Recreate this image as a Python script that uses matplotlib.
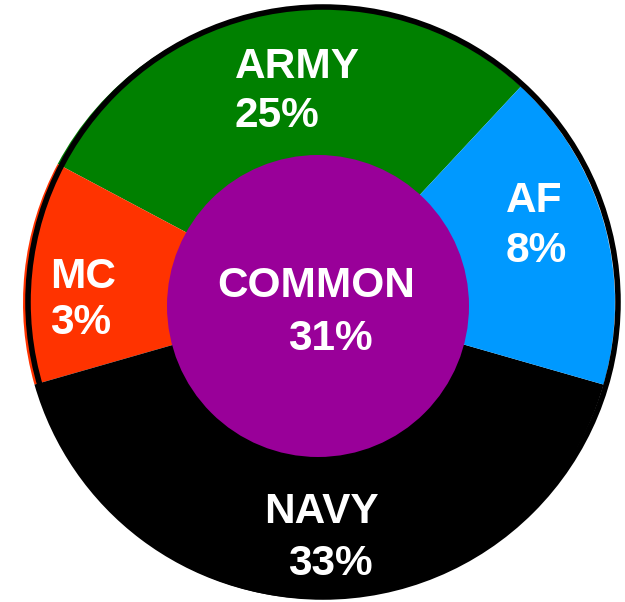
import matplotlib
matplotlib.use("Agg")
import matplotlib.pyplot as plt
from matplotlib.patches import Circle

# ---- data ----
categories = ["ARMY", "MC", "NAVY", "AF"]
percents = [25, 3, 33, 8]
wedge_degrees = [105, 44, 148, 63]          # angular size of each ring wedge as drawn
colors = ["#008000", "#FF3300", "#000000", "#0099FF"]
center_label = "COMMON"
center_percent = 31
center_color = "#990099"

W, H = 625, 602
fig = plt.figure(figsize=(W / 100, H / 100), dpi=100)
ax = fig.add_axes([0, 0, 1, 1])

def py(y):
    return H - y

cx, cy, R = 319, py(303), 296
ax.pie(wedge_degrees, colors=colors, startangle=47, counterclock=True,
       center=(cx, cy), radius=R, wedgeprops=dict(linewidth=0))

# black outline, slightly offset
ax.add_patch(Circle((323, py(302)), 295, fill=False, edgecolor="black",
                    linewidth=4, zorder=3))
# center circle
ax.add_patch(Circle((318, py(306)), 151, facecolor=center_color,
                    edgecolor="none", zorder=4))

font = dict(family=["Liberation Sans", "DejaVu Sans"], fontsize=30.5,
            fontweight="bold", color="white", zorder=5)

# label positions (pixel coords): (x, baseline of name, baseline of percent, ha)
pos = {
    "ARMY": (235, 78, 127, "left"),
    "MC": (50, 288, 334, "left"),
    "AF": (506, 212, 262, "left"),
    "NAVY": (321, 523, 575, "center"),
}
for name, pct in zip(categories, percents):
    x, b1, b2, ha = pos[name]
    x2 = x if ha == "left" else x + 9
    ax.text(x, py(b1), name, ha=ha, va="baseline", **font)
    ax.text(x2, py(b2), f"{pct}%", ha=ha, va="baseline", **font)

ax.text(316, py(297), center_label, ha="center", va="baseline", **font)
ax.text(330, py(350), f"{center_percent}%", ha="center", va="baseline", **font)

ax.set_xlim(0, W)
ax.set_ylim(0, H)
ax.set_aspect("auto")
ax.axis("off")
fig.savefig("out.png", dpi=100)
